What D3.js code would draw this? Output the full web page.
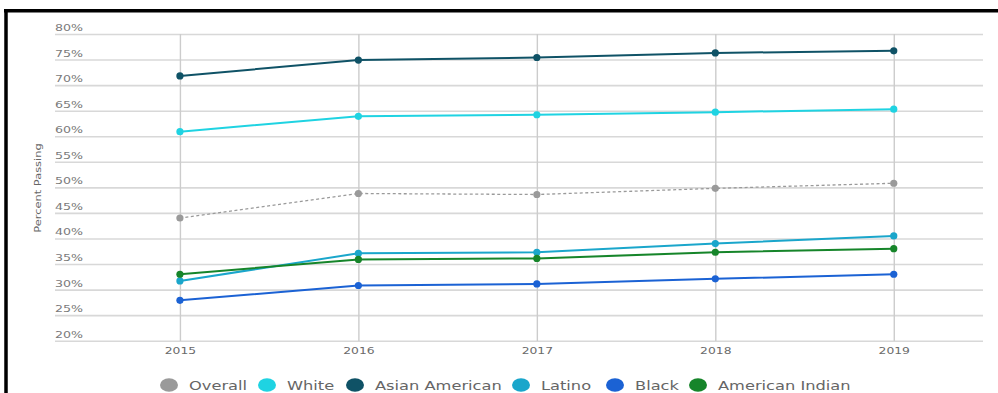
<!DOCTYPE html>
<html><head><meta charset="utf-8">
<script src="https://cdn.jsdelivr.net/npm/d3@7/dist/d3.min.js"></script>
<style>body{margin:0;background:#fff;} svg{display:block;}</style>
</head><body>
<svg id="c" width="998" height="393"></svg>
<script>
const years = [2015, 2016, 2017, 2018, 2019];
const yTicks = [20, 25, 30, 35, 40, 45, 50, 55, 60, 65, 70, 75, 80];
const seriesNames = ["Overall", "White", "Asian American", "Latino", "Black", "American Indian"];
const overall = [44.0, 48.8, 48.6, 49.8, 50.8];
const white = [60.9, 63.9, 64.2, 64.7, 65.3];
const asianAmerican = [71.8, 74.9, 75.4, 76.3, 76.7];
const latino = [31.7, 37.1, 37.3, 39.0, 40.5];
const black = [27.9, 30.8, 31.1, 32.1, 33.0];
const americanIndian = [33.0, 35.9, 36.1, 37.3, 38.0];
const colors = ["#9a9a9a", "#1fd3e2", "#0f5266", "#1aa6cb", "#1b62d4", "#16852a"];
const yTitle = "Percent Passing";

const seriesVals = [overall, white, asianAmerican, latino, black, americanIndian];
const svg = d3.select("#c");

// frame (cropped border)
svg.append("line").attr("x1",6).attr("x2",6).attr("y1",9).attr("y2",393).attr("stroke","#000").attr("stroke-width",3.5);
svg.append("line").attr("x1",4).attr("x2",998).attr("y1",10.8).attr("y2",10.8).attr("stroke","#000").attr("stroke-width",3.5);

const x = d3.scaleLinear().domain([2014.3, 2019.5]).range([55, 983]);
const y = d3.scaleLinear().domain([20, 80]).range([340.7, 34]);

// horizontal grid + labels
const gy = svg.append("g").attr("transform","translate(55,0)")
  .call(d3.axisRight(y).tickValues(yTicks).tickSize(928).tickFormat(d => d + "%"));
gy.select(".domain").remove();
gy.selectAll(".tick line").attr("stroke","#d8d8d8").attr("stroke-width",1.6);
gy.selectAll(".tick text").attr("x",0).attr("dy",-3.5).attr("text-anchor","start")
  .attr("fill","#7a7a7a").style("font-family","DejaVu Sans").style("font-size","9.5px")
  .attr("transform","scale(1.33,1)");

// vertical grid + labels
const gx = svg.append("g").attr("transform","translate(0,34)")
  .call(d3.axisBottom(x).tickValues(years).tickSize(307).tickFormat(d3.format("d")));
gx.select(".domain").remove();
gx.selectAll(".tick line").attr("stroke","#cccccc").attr("stroke-width",1.4);
gx.selectAll(".tick text").attr("x",0).attr("y",313).attr("dy","0.71em").attr("fill","#6a6a6a")
  .style("font-family","DejaVu Sans").style("font-size","9.5px")
  .attr("transform","scale(1.3,1)");

// y title
svg.append("text").attr("transform","translate(41,188) rotate(-90) scale(1.2,1)")
  .attr("text-anchor","middle").attr("fill","#666")
  .style("font-family","DejaVu Sans").style("font-size","9.5px").text(yTitle);

// lines
const line = d3.line().x((d,i) => x(years[i])).y(d => y(d));
seriesVals.forEach((vals, si) => {
  svg.append("path").datum(vals).attr("d", line).attr("fill","none")
    .attr("stroke", colors[si]).attr("stroke-width", si === 0 ? 1.3 : 2)
    .attr("stroke-dasharray", si === 0 ? "3,2.5" : null);
  svg.selectAll(null).data(vals).enter().append("circle")
    .attr("cx",(d,i) => x(years[i])).attr("cy", d => y(d)).attr("r",3.6)
    .attr("fill", colors[si]);
});

// legend
const legX = [169, 267, 355, 521, 615, 698];
const lg = svg.append("g");
seriesNames.forEach((n, i) => {
  lg.append("ellipse").attr("cx", legX[i]).attr("cy",385).attr("rx",9).attr("ry",6.8).attr("fill",colors[i]);
  lg.append("text").attr("transform", `translate(${legX[i] + 20},385) scale(1.3,1)`).attr("dy","0.36em")
    .attr("fill","#666").style("font-family","DejaVu Sans").style("font-size","12.5px").text(n);
});
</script>
</body></html>
